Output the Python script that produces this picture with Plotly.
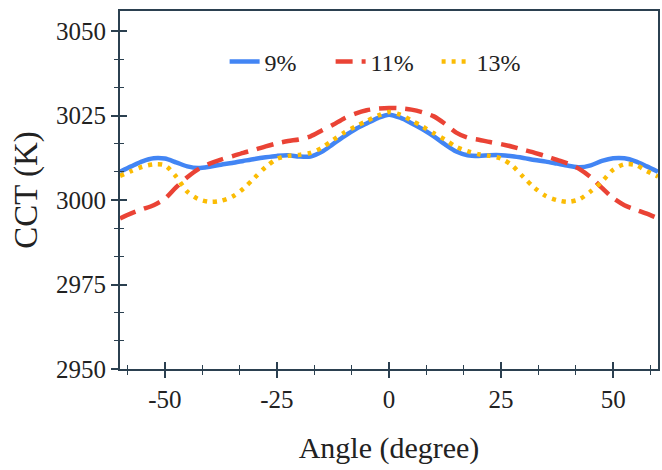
import plotly.graph_objects as go

angles = [-60, -57.5, -55, -52.5, -50, -47.5, -45, -42.5, -40, -37.5, -35, -32.5, -30, -27.5,
          -25, -22.5, -20, -17.5, -15, -12.5, -10, -7.5, -5, -2.5, 0, 2.5, 5, 7.5, 10, 12.5,
          15, 17.5, 20, 22.5, 25, 27.5, 30, 32.5, 35, 37.5, 40, 42.5, 45, 47.5, 50, 52.5,
          55, 57.5, 60]

cct_9 = [3008.4, 3010.0, 3011.5, 3012.4, 3012.3, 3011.2, 3010.0, 3009.5, 3009.9, 3010.5,
         3011.0, 3011.6, 3012.2, 3012.7, 3013.1, 3013.3, 3012.9, 3012.9, 3014.3, 3016.6,
         3018.9, 3021.0, 3022.7, 3024.3, 3025.3, 3024.4, 3022.8, 3021.0, 3018.9, 3016.5,
         3014.4, 3013.3, 3013.1, 3013.3, 3013.3, 3013.0, 3012.5, 3011.9, 3011.4, 3010.8,
         3010.2, 3009.7, 3010.3, 3011.6, 3012.4, 3012.4, 3011.5, 3010.0, 3008.4]

cct_11 = [2994.6, 2996.1, 2997.3, 2998.5, 3000.4, 3003.8, 3006.8, 3009.2, 3010.8, 3012.0,
          3013.0, 3014.0, 3014.9, 3015.9, 3016.8, 3017.5, 3018.0, 3018.9, 3020.6, 3022.3,
          3024.2, 3025.6, 3026.6, 3027.1, 3027.3, 3027.2, 3026.8, 3026.0, 3024.8, 3022.6,
          3020.0, 3018.5, 3017.9, 3017.2, 3016.6, 3015.8, 3014.9, 3014.0, 3013.0, 3011.9,
          3010.8, 3009.2, 3006.8, 3003.6, 3000.6, 2998.5, 2997.2, 2996.0, 2994.6]

cct_13 = [3007.2, 3008.6, 3009.9, 3010.6, 3010.3, 3007.0, 3002.5, 3000.3, 2999.5, 2999.8,
          3001.0, 3003.4, 3006.6, 3009.8, 3012.2, 3013.1, 3013.4, 3014.0, 3015.5, 3017.8,
          3020.0, 3021.8, 3023.4, 3025.0, 3026.1, 3025.3, 3023.6, 3021.8, 3019.8, 3017.9,
          3015.8, 3014.5, 3013.6, 3013.1, 3012.3, 3010.2, 3006.8, 3003.6, 3001.2, 3000.0,
          2999.5, 3000.3, 3002.6, 3005.5, 3009.0, 3010.6, 3010.4, 3008.6, 3007.0]

series_names = ["9%", "11%", "13%"]
x_ticks = [-50, -25, 0, 25, 50]
x_tick_labels = ["-50", "-25", "0", "25", "50"]
y_ticks = [2950, 2975, 3000, 3025, 3050]
y_tick_labels = ["2950", "2975", "3000", "3025", "3050"]

FONT = "Liberation Serif"
AX = "#2B4050"
TXT = "#222222"

fig = go.Figure()
fig.add_trace(go.Scatter(x=angles, y=cct_9, name=series_names[0], mode="lines",
                         line=dict(color="#4285F4", width=4.5, shape="spline", smoothing=0.8)))
fig.add_trace(go.Scatter(x=angles, y=cct_11, name=series_names[1], mode="lines",
                         line=dict(color="#EA4335", width=4.5, dash="17px,9px", shape="spline", smoothing=0.8)))
fig.add_trace(go.Scatter(x=angles, y=cct_13, name=series_names[2], mode="lines",
                         line=dict(color="#FBBC04", width=4.5, dash="4px,6px", shape="spline", smoothing=0.8)))

fig.update_layout(
    width=662, height=470,
    margin=dict(l=120, r=2, t=11, b=101),
    paper_bgcolor="white", plot_bgcolor="white",
    font=dict(family=FONT, size=24, color=TXT),
    showlegend=True,
    legend=dict(orientation="h", x=0.49, xanchor="center", y=0.858, yanchor="middle",
                font=dict(family=FONT, size=24, color=TXT),
                bgcolor="rgba(0,0,0,0)", itemwidth=30, entrywidth=61, tracegroupgap=0),
    xaxis=dict(range=[-60, 60], tickvals=x_ticks, ticktext=x_tick_labels, ticks="outside",
               ticklen=7, tickwidth=1.5,
               tickcolor=AX, showline=True, linecolor=AX, linewidth=2, mirror=True,
               showgrid=False, zeroline=False,
               minor=dict(dtick=25/3, tick0=0, ticks="outside", ticklen=4, tickwidth=1.2, tickcolor=AX),
               tickfont=dict(family=FONT, size=25, color=TXT),
               title=dict(text="Angle (degree)", font=dict(family=FONT, size=30, color=TXT), standoff=25)),
    yaxis=dict(range=[2950, 3056], tickvals=y_ticks, ticktext=y_tick_labels, ticks="outside",
               ticklen=7, tickwidth=1.5,
               tickcolor=AX, showline=True, linecolor=AX, linewidth=2, mirror=True,
               showgrid=False, zeroline=False,
               minor=dict(dtick=25/3, tick0=2950, ticks="outside", ticklen=4, tickwidth=1.2, tickcolor=AX),
               tickfont=dict(family=FONT, size=25, color=TXT),
               title=dict(text="CCT (K)", font=dict(family=FONT, size=33, color=TXT), standoff=8)),
    xaxis2=dict(overlaying="x", anchor="y", side="bottom", range=[-60, 60], tickvals=x_ticks,
                ticks="inside", ticklen=7, tickwidth=1.5, tickcolor=AX, showticklabels=False,
                showgrid=False, zeroline=False, showline=False,
                minor=dict(dtick=25/3, tick0=0, ticks="inside", ticklen=4, tickwidth=1.2, tickcolor=AX)),
    yaxis2=dict(overlaying="y", anchor="x", side="left", range=[2950, 3056], tickvals=y_ticks,
                ticks="inside", ticklen=7, tickwidth=1.5, tickcolor=AX, showticklabels=False,
                showgrid=False, zeroline=False, showline=False,
                minor=dict(dtick=25/3, tick0=2950, ticks="inside", ticklen=4, tickwidth=1.2, tickcolor=AX)),
)

# invisible trace to activate the overlay axes for crossing ticks
fig.add_trace(go.Scatter(x=[None], y=[None], xaxis="x2", yaxis="y2", showlegend=False, hoverinfo="skip"))

fig.write_html("out.html")
